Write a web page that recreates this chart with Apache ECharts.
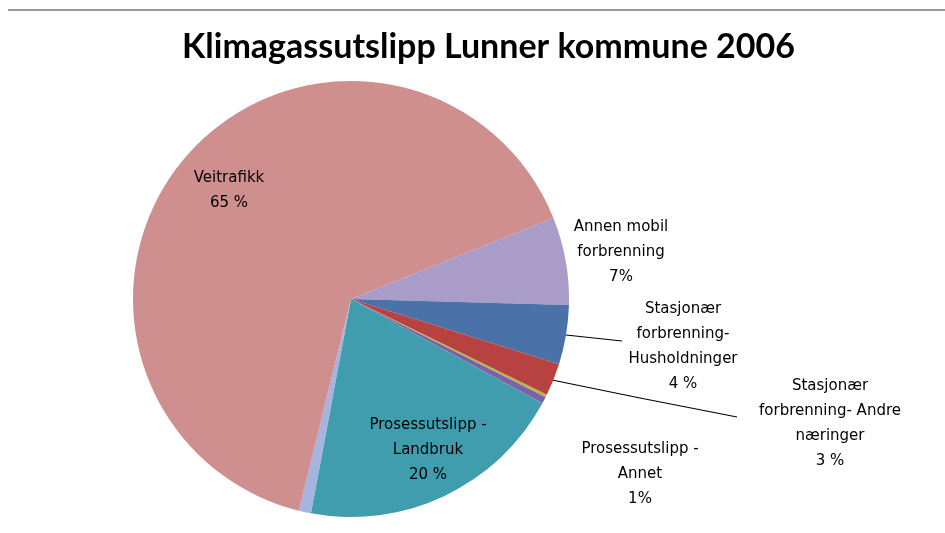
<!DOCTYPE html>
<html>
<head>
<meta charset="utf-8">
<script src="https://cdn.jsdelivr.net/npm/echarts@6/dist/echarts.min.js"></script>
<style>
  html, body { margin: 0; padding: 0; background: #fff; }
  #echart { width: 945px; height: 533px; }
</style>
</head>
<body>
<div id="echart"></div>
<script>
// data, clockwise from the "Annen mobil" slice
var names = ['Annen mobil forbrenning', 'Stasjonær forbrenning- Husholdninger', 'Stasjonær forbrenning- Andre næringer',
             'Andre kilder', 'Prosessutslipp - Annet', 'Prosessutslipp - Landbruk', 'Avfall', 'Veitrafikk'];
var values = [6.5, 4.4, 2.4, 0.2, 0.5, 20.0, 0.9, 65.1];
var labelTexts = ['Annen mobil\nforbrenning', 'Stasjonær\nforbrenning-\nHusholdninger', 'Stasjonær\nforbrenning- Andre\nnæringer',
                  '', 'Prosessutslipp -\nAnnet', 'Prosessutslipp -\nLandbruk', '', 'Veitrafikk'];
var pctTexts = ['7%', '4 %', '3 %', '', '1%', '20 %', '', '65 %'];
var colors = ['#a99cc8', '#4a72a9', '#b7423f', '#abba4b', '#7e60a8', '#3f9dae', '#a5b4de', '#cf8f8f'];

// label placement (centre of text block) and leader lines
var labelPos = [[621, 252], [683, 347], [830, 424], null, [640, 474], [428, 450], null, [229, 191]];
var leaders = [null, [[566, 335], [594, 338], [622, 341]], null, null, null, null, null, null];
leaders[2] = [[552, 380], [640, 398], [737, 417]];

var myChart = echarts.init(document.getElementById('echart'));

var pieData = names.map(function (n, i) {
  return {
    name: n,
    value: values[i],
    itemStyle: { color: colors[i] },
    label: { show: labelTexts[i] !== '' },
    labelLine: { show: leaders[i] != null }
  };
});

myChart.setOption({
  animation: false,
  title: {
    text: 'Klimagassutslipp Lunner kommune 2006',
    left: 177,
    top: 25,
    textStyle: { fontFamily: 'Lato', fontWeight: 'bold', fontSize: 34, color: '#000' }
  },
  graphic: [{
    type: 'line',
    shape: { x1: 8, y1: 10, x2: 945, y2: 10 },
    style: { stroke: '#9a9a9a', lineWidth: 2 }
  }],
  series: [{
    type: 'pie',
    center: [351, 299],
    radius: 218,
    startAngle: 21.8,
    clockwise: true,
    avoidLabelOverlap: false,
    data: pieData,
    label: {
      position: 'outside',
      color: '#000',
      fontFamily: 'DejaVu Sans',
      fontSize: 15,
      lineHeight: 25,
      align: 'center',
      formatter: function (p) {
        return labelTexts[p.dataIndex] + '\n' + pctTexts[p.dataIndex];
      }
    },
    labelLine: { lineStyle: { color: '#000', width: 1.2 } },
    labelLayout: function (p) {
      var pos = labelPos[p.dataIndex];
      if (!pos) return {};
      var res = { x: pos[0], y: pos[1], align: 'center', verticalAlign: 'middle' };
      if (leaders[p.dataIndex]) res.labelLinePoints = leaders[p.dataIndex];
      return res;
    },
    emphasis: { disabled: true }
  }]
});
</script>
</body>
</html>
